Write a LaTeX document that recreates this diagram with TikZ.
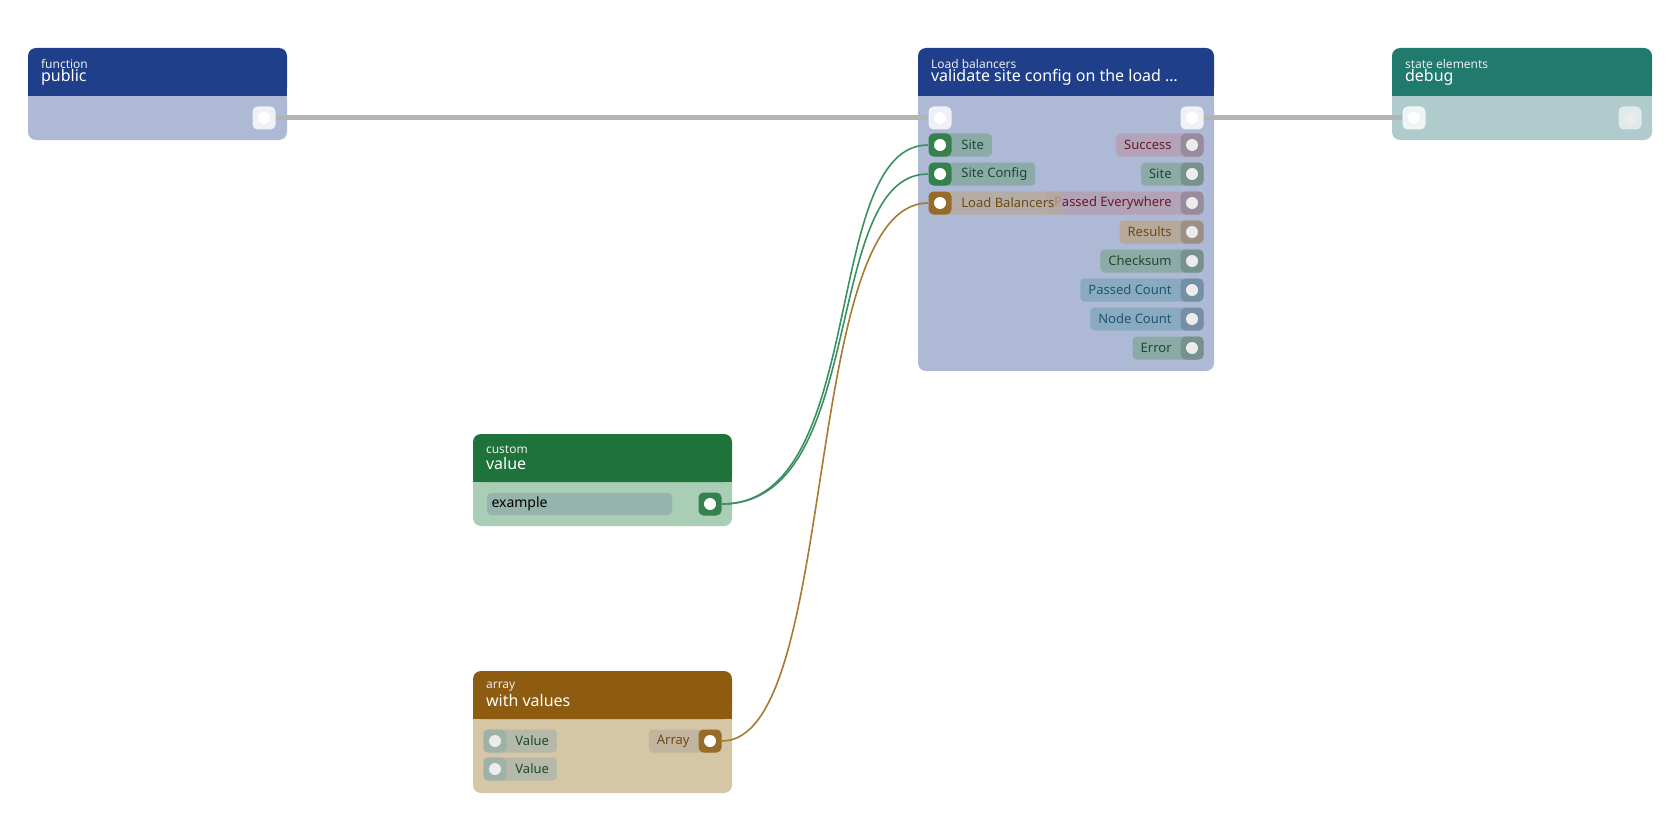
\documentclass[tikz,border=0pt]{standalone}
\usepackage{fontspec}
\setmainfont{Noto Sans}
\usetikzlibrary{positioning}

\definecolor{hdblue}{HTML}{1F3F8A}
\definecolor{bdblue}{HTML}{ADB9D5}
\definecolor{hdteal}{HTML}{217A6E}
\definecolor{bdteal}{HTML}{AFCBCB}
\definecolor{hdgreen}{HTML}{1D7339}
\definecolor{bdgreen}{HTML}{A9CDB5}
\definecolor{hdbrown}{HTML}{8D5C10}
\definecolor{bdbrown}{HTML}{D5C6A6}
\definecolor{pgreen}{HTML}{8CABA8}
\definecolor{ppink}{HTML}{B3A3B8}
\definecolor{pbrown}{HTML}{B6A99C}
\definecolor{pblue}{HTML}{8AAAC2}
\definecolor{tgreen}{HTML}{1E4A2E}
\definecolor{tpink}{HTML}{6B1A2A}
\definecolor{tbrown}{HTML}{6E4A12}
\definecolor{tblue}{HTML}{1F5570}
\definecolor{wire}{HTML}{B4B4B4}
\definecolor{wgreen}{HTML}{3A9060}
\definecolor{wbrown}{HTML}{A87A30}

\tikzset{
  port/.style={draw=none, fill=#1, rounded corners=2.5pt, minimum size=11.5pt, inner sep=0pt,
    path picture={\fill[white] (path picture bounding box.center) circle (3pt);}},
  dimport/.style={draw=none, fill=#1, rounded corners=2.5pt, minimum size=11.5pt, inner sep=0pt,
    path picture={\fill[white!85!gray] (path picture bounding box.center) circle (3pt);}},
  pill/.style={fill=#1, rounded corners=2pt, minimum height=11.5pt, inner ysep=0pt, font=\fontsize{6.5}{7}\selectfont},
  kind/.style={font=\fontsize{6}{6}\selectfont, text=white!85!gray, anchor=west},
  title/.style={font=\fontsize{8}{8}\selectfont, text=white, anchor=west},
}

% output row: name, y, label, pill fill, text colour
\newcommand{\outrow}[5]{
  \node[pill=#4, text=#5, anchor=east, inner xsep=4pt] (#1l) at (1204,#2) {#3\hspace*{12pt}};
  \node[dimport=#4!85!black] (#1) at (1192,#2) {};
}

\begin{document}
\begin{tikzpicture}[x=0.5pt,y=-0.5pt]
\useasboundingbox (0,0) rectangle (1680,840);

% function public
\fill[bdblue, rounded corners=4pt] (28,90) rectangle (287,140);
\fill[hdblue, rounded corners=4pt] (28,48) rectangle (287,96);
\fill[hdblue] (28,80) rectangle (287,96);
\node[kind] at (34,64) {function};
\node[title] at (34,77) {public};
\node[port=white!80!bdblue] (pubout) at (264,118) {};

% load balancers
\fill[bdblue, rounded corners=4pt] (918,90) rectangle (1214,371);
\fill[hdblue, rounded corners=4pt] (918,48) rectangle (1214,96);
\fill[hdblue] (918,80) rectangle (1214,96);
\node[kind] at (924,64) {Load balancers};
\node[title] at (924,77) {validate site config on the load \dots};
\node[port=white!80!bdblue] (lbin) at (940,118) {};
\node[port=white!80!bdblue] (lbout) at (1192,118) {};
\outrow{outsucc}{145}{Success}{ppink}{tpink}
\outrow{outsite}{174}{Site}{pgreen}{tgreen}
\outrow{outpass}{203}{Passed Everywhere}{ppink}{tpink}
\outrow{outres}{232}{Results}{pbrown}{tbrown}
\outrow{outsum}{261}{Checksum}{pgreen}{tgreen}
\outrow{outpc}{290}{Passed Count}{pblue}{tblue}
\outrow{outnc}{319}{Node Count}{pblue}{tblue}
\outrow{outerr}{348}{Error}{pgreen}{tgreen}
\node[pill=pgreen, text=tgreen, anchor=west, inner xsep=4pt] (sitel) at (929,145) {\hspace*{12pt}Site};
\node[port=hdgreen!90!white] (site) at (940,145) {};
\node[pill=pgreen, text=tgreen, anchor=west, inner xsep=4pt] (cfgl) at (929,174) {\hspace*{12pt}Site Config};
\node[port=hdgreen!90!white] (cfg) at (940,174) {};
\node[pill=pbrown, text=tbrown, anchor=west, inner xsep=4pt, fill opacity=0.8, text opacity=1] (lbsl) at (929,203) {\hspace*{12pt}Load Balancers};
\node[port=hdbrown!90!white] (lbs) at (940,203) {};

% state elements debug
\fill[bdteal, rounded corners=4pt] (1392,90) rectangle (1652,140);
\fill[hdteal, rounded corners=4pt] (1392,48) rectangle (1652,96);
\fill[hdteal] (1392,80) rectangle (1652,96);
\node[kind] at (1398,64) {state elements};
\node[title] at (1398,77) {debug};
\node[port=white!80!bdteal] (dbgin) at (1414,118) {};
\node[dimport=white!60!bdteal] (dbgout) at (1630,118) {};

% custom value
\fill[bdgreen, rounded corners=4pt] (473,476) rectangle (732,526);
\fill[hdgreen, rounded corners=4pt] (473,434) rectangle (732,482);
\fill[hdgreen] (473,466) rectangle (732,482);
\node[kind] at (479,450) {custom};
\node[title] at (479,463) {value};
\node[fill=pgreen!70!bdgreen, rounded corners=2pt, minimum width=92.5pt, minimum height=11pt, inner sep=0pt,
  text=black, font=\fontsize{7}{7}\selectfont, text width=88pt] (val) at (579.5,504) {example};
\node[port=hdgreen!90!white] (valout) at (710,504) {};

% array with values
\fill[bdbrown, rounded corners=4pt] (473,713) rectangle (732,793);
\fill[hdbrown, rounded corners=4pt] (473,671) rectangle (732,719);
\fill[hdbrown] (473,703) rectangle (732,719);
\node[kind] at (479,687) {array};
\node[title] at (479,700) {with values};
\node[pill=pgreen!45!bdbrown, text=tgreen, anchor=west, inner xsep=4pt] (v1l) at (483,741) {\hspace*{12pt}Value};
\node[dimport=pgreen!75!bdbrown] (v1) at (495,741) {};
\node[pill=pgreen!45!bdbrown, text=tgreen, anchor=west, inner xsep=4pt] (v2l) at (483,769) {\hspace*{12pt}Value};
\node[dimport=pgreen!75!bdbrown] (v2) at (495,769) {};
\node[pill=pbrown!60!bdbrown, text=tbrown, anchor=east, inner xsep=4pt] (arrl) at (722,741) {Array\hspace*{12pt}};
\node[port=hdbrown!90!white] (arr) at (710,741) {};

% connectors
\draw[wire, line width=2.5pt] (pubout.east) -- (lbin.west);
\draw[wire, line width=2.5pt] (lbout.east) -- (dbgin.west);
\draw[wgreen, line width=0.8pt] (valout.east) .. controls (870,504) and (820,145) .. (site.west);
\draw[wgreen, line width=0.8pt] (valout.east) .. controls (870,504) and (820,174) .. (cfg.west);
\draw[wbrown, line width=0.8pt] (arr.east) .. controls (840,741) and (800,203) .. (lbs.west);
\end{tikzpicture}
\end{document}
